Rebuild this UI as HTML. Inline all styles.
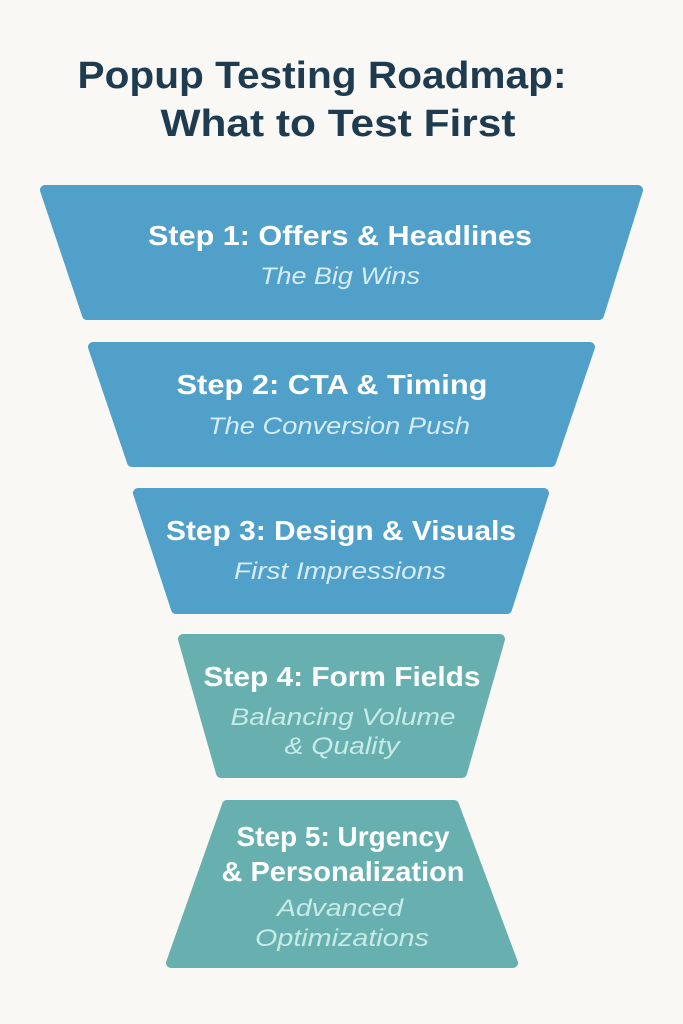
<!DOCTYPE html>
<html><head><meta charset="utf-8"><style>
html,body{margin:0;padding:0;background:#f9f8f5;}
svg{display:block}
</style></head><body>
<svg width="683" height="1024" viewBox="0 0 683 1024" xmlns="http://www.w3.org/2000/svg">
<rect width="683" height="1024" fill="#f9f8f5"/>
<g font-family="Liberation Sans, sans-serif" text-anchor="middle" lengthAdjust="spacingAndGlyphs">
<text x="322" y="88" font-size="38" font-weight="bold" fill="#1f3b50" textLength="489" lengthAdjust="spacingAndGlyphs">Popup Testing Roadmap:</text>
<text x="338" y="136" font-size="38" font-weight="bold" fill="#1f3b50" textLength="355" lengthAdjust="spacingAndGlyphs">What to Test First</text>
</g>
<g stroke-linejoin="round" stroke-width="10">
<polygon points="45,190 638,190 599,315 87,315" fill="#50a0ca" stroke="#50a0ca"/>
<polygon points="93,347 590,347 551,462 132,462" fill="#50a0ca" stroke="#50a0ca"/>
<polygon points="138,493 544,493 507,609 176,609" fill="#50a0ca" stroke="#50a0ca"/>
<polygon points="183,639 500,639 462,773 221,773" fill="#68b0b0" stroke="#68b0b0"/>
<polygon points="227,805 454,805 513,963 171,963" fill="#68b0b0" stroke="#68b0b0"/>
</g>
<g font-family="Liberation Sans, sans-serif" text-anchor="middle">
<g font-size="28" font-weight="bold" fill="#ffffff">
<text x="340" y="245" textLength="384" lengthAdjust="spacingAndGlyphs">Step 1: Offers &amp; Headlines</text>
<text x="332" y="394" textLength="311" lengthAdjust="spacingAndGlyphs">Step 2: CTA &amp; Timing</text>
<text x="341" y="540" textLength="350" lengthAdjust="spacingAndGlyphs">Step 3: Design &amp; Visuals</text>
<text x="342" y="686" textLength="277" lengthAdjust="spacingAndGlyphs">Step 4: Form Fields</text>
<text x="343" y="846" textLength="213" lengthAdjust="spacingAndGlyphs">Step 5: Urgency</text>
<text x="343" y="881" textLength="243" lengthAdjust="spacingAndGlyphs">&amp; Personalization</text>
</g>
<g font-size="24" font-style="italic" fill="#d6ecf7">
<text x="340" y="284" textLength="160" lengthAdjust="spacingAndGlyphs">The Big Wins</text>
<text x="339" y="434" textLength="262" lengthAdjust="spacingAndGlyphs">The Conversion Push</text>
<text x="340" y="579" textLength="212" lengthAdjust="spacingAndGlyphs">First Impressions</text>
</g>
<g font-size="24" font-style="italic" fill="#c6ebe6">
<text x="343" y="725" textLength="225" lengthAdjust="spacingAndGlyphs">Balancing Volume</text>
<text x="342" y="754" textLength="115" lengthAdjust="spacingAndGlyphs">&amp; Quality</text>
<text x="340" y="916" textLength="126" lengthAdjust="spacingAndGlyphs">Advanced</text>
<text x="342" y="946" textLength="174" lengthAdjust="spacingAndGlyphs">Optimizations</text>
</g>
</g>
</svg>
</body></html>
